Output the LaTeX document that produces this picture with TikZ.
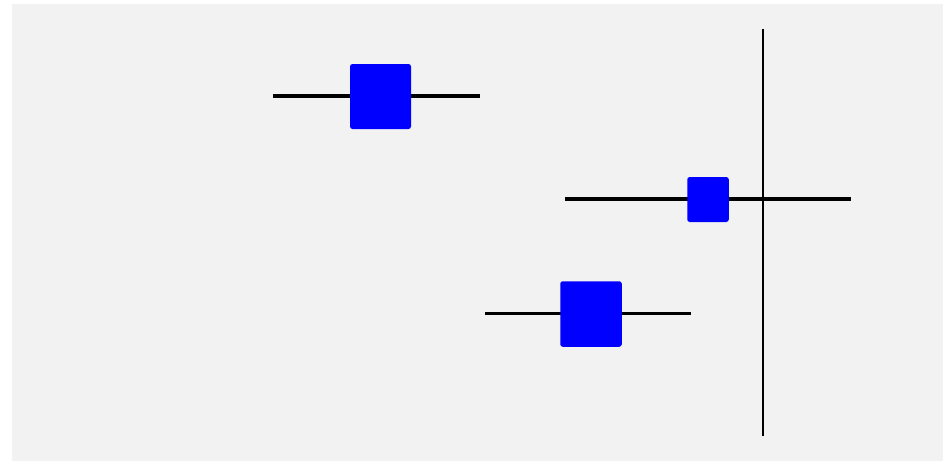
\documentclass[tikz,border=0pt]{standalone}
\begin{document}
\begin{tikzpicture}[x=1pt,y=-1pt,
  ci/.style={line width=3.4pt,black},
  ref/.style={line width=1.8pt,black},
  est/.style 2 args={draw=none,fill=blue,rounded corners=2.5pt,inner sep=0pt,outer sep=0pt,minimum width=#1,minimum height=#2},
]
\useasboundingbox (0,0) rectangle (943,461);
\fill[white] (0,0) rectangle (943,461);
\fill[black!5] (12,4) rectangle (943,461);
% reference line
\coordinate (rt) at (763,29);
\coordinate (rb) at (763,436);
\draw[ref] (rt) -- (rb);
% study 1
\coordinate (a1) at (273,96);
\coordinate (b1) at (480,96);
\draw[ci] (a1) -- (b1);
\node[est={61pt}{65pt}] (s1) at (380.5,96.5) {};
% study 2
\coordinate (a2) at (565,199);
\coordinate (b2) at (851,199);
\draw[ci] (a2) -- (b2);
\node[est={41.5pt}{45pt}] (s2) at (708,199.5) {};
% study 3
\coordinate (a3) at (485,313.5);
\coordinate (b3) at (691,313.5);
\draw[ci] (a3) -- (b3);
\node[est={61.5pt}{65.5pt}] (s3) at (591,314) {};
\end{tikzpicture}
\end{document}
